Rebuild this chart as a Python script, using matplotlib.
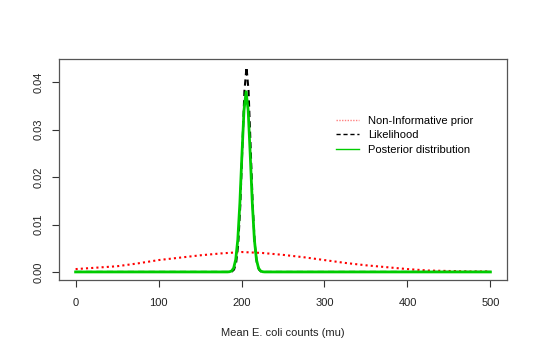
import matplotlib
matplotlib.use("Agg")
import matplotlib.pyplot as plt
from matplotlib.lines import Line2D

plt.rcParams["font.family"] = ["Liberation Sans", "DejaVu Sans"]

# 先验分布
prior_x = [0, 25, 50, 75, 100, 125, 150, 175, 200, 225, 250, 275, 300,
           325, 350, 375, 400, 425, 450, 475, 500]
prior_y = [0.0006, 0.0009, 0.0012, 0.0018, 0.0025, 0.0030, 0.0035, 0.0039,
           0.0042, 0.0040, 0.0036, 0.0031, 0.0025, 0.0019, 0.0014, 0.0010,
           0.0006, 0.0003, 0.0002, 0.0001, 0.0001]

# 似然
lik_x = [0, 186, 188.5, 191, 193.5, 196, 198.5, 201, 203.5, 206, 208.5,
         211, 213.5, 216, 218.5, 221, 223.5, 226, 500]
lik_y = [0.0, 0.0, 0.0001, 0.0005, 0.0019, 0.0058, 0.0140, 0.0262, 0.0381,
         0.0432, 0.0381, 0.0262, 0.0140, 0.0058, 0.0019, 0.0005, 0.0001,
         0.0, 0.0]

# 后验
post_x = [0, 183, 185.5, 188, 190.5, 193, 195.5, 198, 200.5, 203, 205.5,
          208, 210.5, 213, 215.5, 218, 220.5, 223, 225.5, 228, 500]
post_y = [0.0, 0.0, 0.00004, 0.0002, 0.0008, 0.0026, 0.0068, 0.0145,
          0.0247, 0.0341, 0.0380, 0.0341, 0.0247, 0.0145, 0.0068, 0.0026,
          0.0008, 0.0002, 0.00004, 0.0, 0.0]

x_ticks = [0, 100, 200, 300, 400, 500]
y_ticks = [0.00, 0.01, 0.02, 0.03, 0.04]
y_tick_labels = ["0.00", "0.01", "0.02", "0.03", "0.04"]

legend_labels = ["Non-Informative prior", "Likelihood", "Posterior distribution"]

fig = plt.figure(figsize=(5.38, 3.55), dpi=100)
ax = fig.add_axes([59 / 538, 75 / 355, 448 / 538, 221 / 355])

ax.plot(prior_x, prior_y, color="red", linestyle=(0, (1, 1.5)), linewidth=1.5)
ax.plot(lik_x, lik_y, color="black", linestyle=(0, (3, 2)), linewidth=1.5)
ax.plot(post_x, post_y, color="#00cc00", linestyle="-", linewidth=2)

ax.set_xlim(-20, 520)
ax.set_ylim(-0.0017, 0.0449)
ax.set_xticks(x_ticks)
ax.set_yticks(y_ticks)
ax.set_yticklabels(y_tick_labels, rotation=90, va="center")
ax.tick_params(axis="both", labelsize=8, length=5, width=0.8,
               color="#333333", labelcolor="#222222")
ax.tick_params(axis="x", pad=8)
ax.tick_params(axis="y", pad=6)
for sp in ax.spines.values():
    sp.set_color("#555555")
    sp.set_linewidth(0.9)

ax.set_xlabel("Mean E. coli counts (mu)", fontsize=8, labelpad=14,
              color="#222222")

handles = [
    Line2D([], [], color="#ff8080", linestyle=(0, (1, 1)), linewidth=1),
    Line2D([], [], color="black", linestyle=(0, (3, 2)), linewidth=1),
    Line2D([], [], color="#00cc00", linestyle="-", linewidth=1),
]
ax.legend(handles, legend_labels, loc="upper left",
          bbox_to_anchor=(330 / 538, 1 - 110 / 355),
          bbox_transform=fig.transFigure, frameon=False, fontsize=8,
          handlelength=2.1, handletextpad=0.8, labelspacing=0.42,
          borderpad=0)

fig.savefig("out.png", dpi=100)
